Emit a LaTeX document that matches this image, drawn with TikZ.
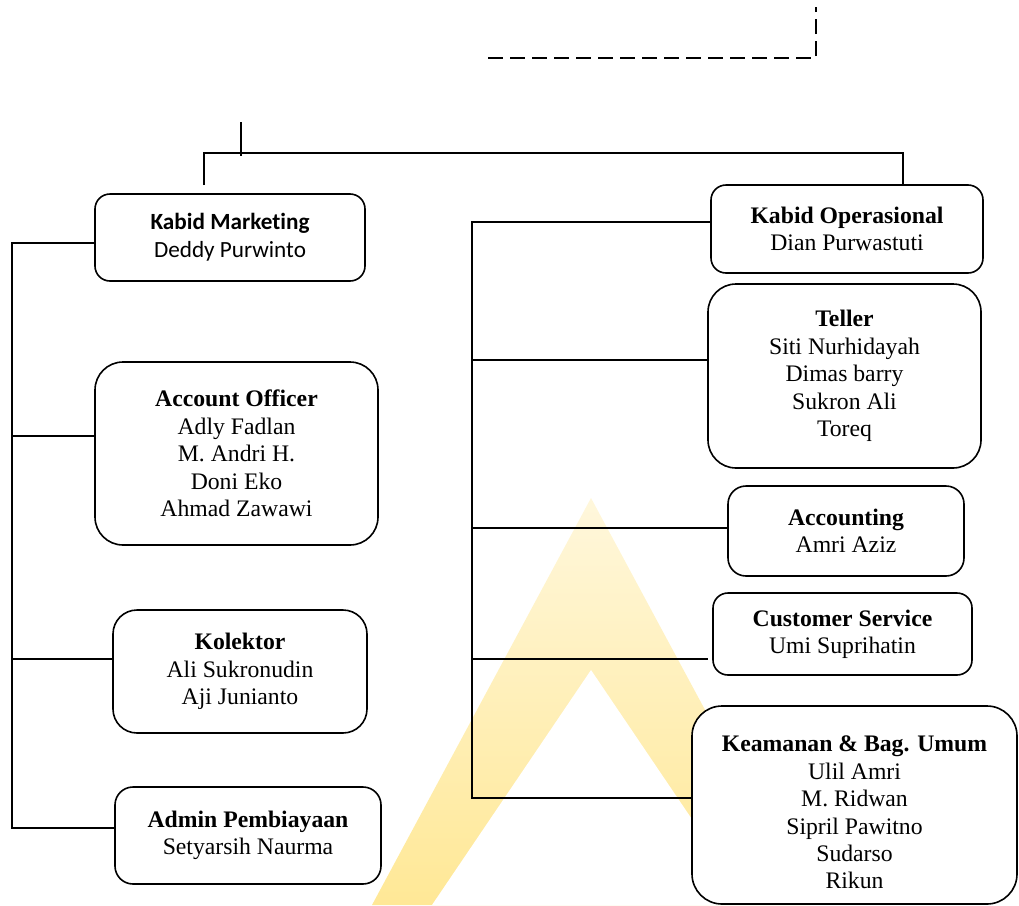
\documentclass[tikz,border=0pt]{standalone}
\usepackage{fontspec}
\setmainfont{Liberation Serif}
\newfontfamily\calibrifont[Ligatures=NoCommon]{Carlito}
\usetikzlibrary{calc}
\definecolor{wmtop}{RGB}{255,247,220}
\definecolor{wmbot}{RGB}{255,232,150}
\tikzset{
  box/.style={draw, line width=1.6pt, fill=white, align=center, inner sep=0pt,
    font=\fontsize{23.7}{27.4}\selectfont},
  trunk/.style={line width=2.2pt},
  conn/.style={line width=1.8pt},
  dashline/.style={line width=2pt, dash pattern=on 15pt off 7pt},
}
\begin{document}
\begin{tikzpicture}[x=1pt,y=-1pt]
\useasboundingbox (0,0) rectangle (1019,905);
% watermark
\shade[top color=wmtop, bottom color=wmbot] (591,498) -- (372,905) -- (810,905) -- cycle;
\fill[white] (591,670) -- (432,905) -- (750,905) -- cycle;

% dashed link at top
\coordinate (d1) at (488,58);
\coordinate (d2) at (816,58);
\coordinate (d3) at (816,7);
\draw[dashline] (d1) -- (d2) -- (d3);

% boxes
\node[box, rounded corners=15pt, minimum width=270pt, minimum height=87pt,
  font=\calibrifont\fontsize{23.2}{28}\selectfont] (km) at (230,237.5)
  {\textbf{Kabid Marketing}\\Deddy Purwinto};
\node[box, rounded corners=28pt, minimum width=283pt, minimum height=183pt] (ao) at (236.5,453.5)
  {\textbf{Account Officer}\\Adly Fadlan\\M. Andri H.\\Doni Eko\\Ahmad Zawawi};
\node[box, rounded corners=24pt, minimum width=254pt, minimum height=123pt] (ko) at (240,671.5)
  {\textbf{Kolektor}\\Ali Sukronudin\\Aji Junianto};
\node[box, rounded corners=18pt, minimum width=266pt, minimum height=97pt] (ad) at (248,835.5)
  {\textbf{Admin Pembiayaan}\\Setyarsih Naurma};

\node[box, rounded corners=15pt, minimum width=272pt, minimum height=88pt] (kop) at (847,229)
  {\textbf{Kabid Operasional}\\Dian Purwastuti};
\node[box, rounded corners=28pt, minimum width=273pt, minimum height=184pt] (te) at (844.5,376)
  {\textbf{Teller}\\Siti Nurhidayah\\Dimas barry\\Sukron Ali\\Toreq};
\node[box, rounded corners=18pt, minimum width=236pt, minimum height=90pt] (acc) at (846,531)
  {\textbf{Accounting}\\Amri Aziz};
\node[box, rounded corners=15pt, minimum width=259pt, minimum height=82pt] (cs) at (842.5,634)
  {\textbf{Customer Service}\\Umi Suprihatin};
\node[box, rounded corners=30pt, minimum width=325pt, minimum height=198pt] (ke) at (854.5,805)
  {\rule{0pt}{31pt}\textbf{Keamanan \& Bag. Umum}\\Ulil Amri\\M. Ridwan\\Sipril Pawitno\\Sudarso\\Rikun};

% top connector
\coordinate (tt) at (241,122);
\coordinate (tb) at (241,156);
\coordinate (hl) at (204,153);
\coordinate (hr) at (903,153);
\coordinate (kmtop) at (204,185);
\draw[conn] (tt) -- (tb);
\draw[conn] (kmtop) -- (hl) -- (hr) -- (hr |- kop.north);

% left trunk
\coordinate (lt) at (12,243);
\coordinate (l2) at (12,436);
\coordinate (l3) at (12,659);
\coordinate (lb) at (12,828);
\draw[trunk] (lt -| km.west) -- (lt) -- (lb) -- (lb -| ad.west);
\draw[conn] (l2) -- (l2 -| ao.west);
\draw[conn] (l3) -- (l3 -| ko.west);

% right trunk
\coordinate (rt) at (472,222);
\coordinate (r2) at (472,360);
\coordinate (r3) at (472,528);
\coordinate (r4) at (472,659);
\coordinate (rb) at (472,798);
\draw[trunk] (rt -| kop.west) -- (rt) -- (rb) -- (rb -| ke.west);
\draw[conn] (r2) -- (r2 -| te.west);
\draw[conn] (r3) -- (r3 -| acc.west);
\draw[conn] (r4) -- ($(r4 -| cs.west)+(-4,0)$);
\end{tikzpicture}
\end{document}
